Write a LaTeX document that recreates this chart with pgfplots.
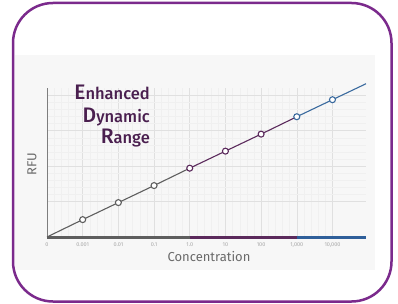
\documentclass[border=0pt]{standalone}
\usepackage{pgfplots}
\pgfplotsset{compat=1.18}
\usepackage{fontspec}
\setmainfont{PT Sans}
\newfontfamily\titlefont{Fira Sans}[UprightFont=* Medium]
\newfontfamily\labfont{Fira Sans}
\definecolor{frameC}{HTML}{7B2A8C}
\definecolor{panelC}{HTML}{F7F7F7}
\definecolor{titleC}{HTML}{4A1F4F}
\definecolor{grayL}{HTML}{5E5E5E}
\definecolor{purpL}{HTML}{5B2A5C}
\definecolor{blueL}{HTML}{3A6A9E}
\definecolor{blueB}{HTML}{2F5F9A}
\definecolor{labelC}{HTML}{6A6A6A}
\definecolor{tickC}{HTML}{A8A8A8}
\begin{document}
\begin{tikzpicture}
\path[use as bounding box] (0pt,0pt) rectangle (398pt,-304pt);
\fill[white] (0pt,0pt) rectangle (398pt,-304pt);
\fill[panelC] (15pt,-55pt) rectangle (375pt,-270pt);
\draw[frameC, line width=2.5pt, rounded corners=40pt] (13pt,-3pt) rectangle (391.5pt,-301.5pt);
\begin{axis}[
  at={(47pt,-237pt)}, anchor=south west,
  scale only axis, width=319pt, height=149pt,
  xmin=0, xmax=8.94, ymin=0, ymax=4.2,
  clip=false,
  axis lines=left,
  axis line style={-},
  x axis line style={draw=none},
  y axis line style={draw=grayL!80, line width=0.8pt},
  xtick={0,1,...,8},
  xticklabels={0,0.001,0.01,0.1,1.0,10,100,{1,000},{10,000}},
  ytick={1,2,3,4},
  yticklabels={},
  minor x tick num=4, minor y tick num=4,
  grid=both,
  major grid style={draw=black!12, line width=0.5pt},
  minor grid style={draw=black!6, line width=0.3pt},
  major tick length=0pt, minor tick length=0pt,
  /pgf/number format/assume math mode=true,
  xticklabel style={font=\labfont\fontsize{5.5}{6}\selectfont, text=tickC, yshift=-2pt},
]
\addplot[grayL, line width=3pt, forget plot] coordinates {(0,0) (4,0)};
\addplot[purpL, line width=3pt, forget plot] coordinates {(4,0) (7,0)};
\addplot[blueB, line width=3pt, forget plot] coordinates {(7,0) (8.94,0)};
\addplot[grayL, line width=1.1pt] coordinates {(0,0) (1,0.49) (2,0.97) (3,1.45) (4,1.94)};
\addplot[purpL, line width=1.1pt] coordinates {(4,1.94) (5,2.42) (6,2.90) (7,3.39)};
\addplot[blueL, line width=1.1pt] coordinates {(7,3.39) (8,3.87) (8.94,4.32)};
\addplot[only marks, mark=*, mark size=3pt, mark options={fill=white, draw=grayL, line width=1.1pt}] coordinates {(1,0.49) (2,0.97) (3,1.45)};
\addplot[only marks, mark=*, mark size=3pt, mark options={fill=white, draw=purpL, line width=1.1pt}] coordinates {(4,1.94) (5,2.42) (6,2.90)};
\addplot[only marks, mark=*, mark size=3pt, mark options={fill=white, draw=blueL, line width=1.1pt}] coordinates {(7,3.39) (8,3.87)};
\end{axis}
\node[anchor=base east, text=titleC, inner sep=0pt] at (150pt,-99.5pt) {\titlefont\fontsize{21}{21}\selectfont E\fontsize{16.5}{17}\selectfont nhanced};
\node[anchor=base east, text=titleC, inner sep=0pt] at (150pt,-122.5pt) {\titlefont\fontsize{21}{21}\selectfont D\fontsize{16.5}{17}\selectfont ynamic};
\node[anchor=base east, text=titleC, inner sep=0pt] at (150pt,-143.5pt) {\titlefont\fontsize{21}{21}\selectfont R\fontsize{16.5}{17}\selectfont ange};
\node[rotate=90, text=labelC, inner sep=0pt] at (32pt,-164pt) {\labfont\fontsize{13}{13}\selectfont RFU};
\node[anchor=base, text=labelC, inner sep=0pt] at (209pt,-261pt) {\labfont\fontsize{13}{14}\selectfont Concentration};
\end{tikzpicture}
\end{document}
